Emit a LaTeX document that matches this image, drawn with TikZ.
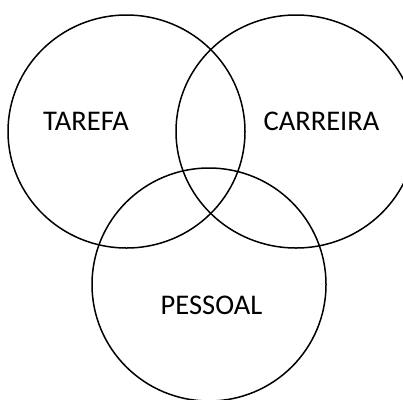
\documentclass[tikz,border=0pt]{standalone}
\usepackage{fontspec}
\setmainfont{Carlito}
\usepackage{tikz}
\usetikzlibrary{positioning}

\begin{document}
\begin{tikzpicture}[
  x=1pt, y=-1pt,
  ring/.style={draw, line width=1.5pt},
  tag/.style={font=\fontsize{28.5}{33}\selectfont, inner sep=0pt},
]
\useasboundingbox (0,0) rectangle (403,399);

% the three areas
\draw[ring] (126.5,131.5) ellipse [x radius=118.5, y radius=116.5];
\draw[ring] (296,131.5) ellipse [x radius=120, y radius=116.5];
\draw[ring] (209,284.5) ellipse [x radius=117, y radius=116.5];

\node[tag] (tarefa) at (86,121.5) {TAREFA};
\node[tag] (carreira) at (321.5,121) {CARREIRA};
\node[tag] (pessoal) at (211.5,305) {PESSOAL};

\end{tikzpicture}
\end{document}
